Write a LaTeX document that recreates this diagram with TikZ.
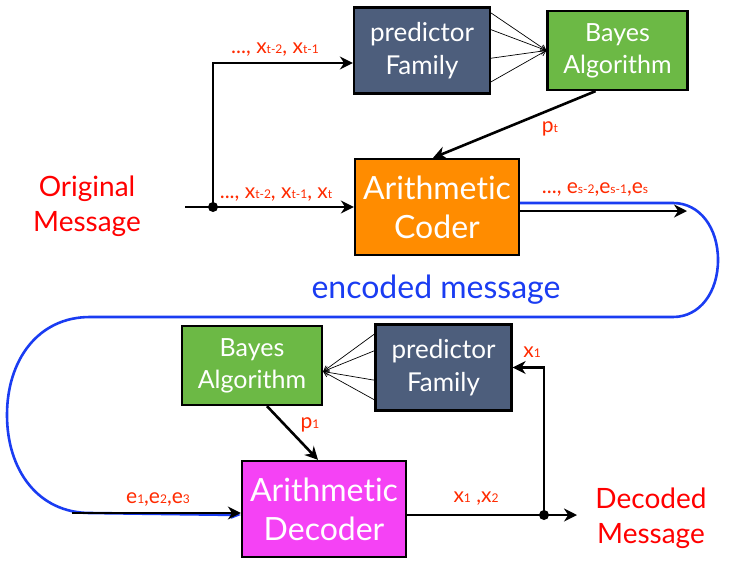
\documentclass[tikz,border=0pt]{standalone}
\usepackage{fontspec}
\setmainfont{Lato}[Ligatures = NoCommon]
\usetikzlibrary{calc, arrows.meta}
\definecolor{slate}{HTML}{4D5E7C}
\definecolor{bayesgreen}{HTML}{6CB945}
\definecolor{coderorange}{HTML}{FF8C00}
\definecolor{decmagenta}{HTML}{F542F5}
\definecolor{labelred}{HTML}{FF2A00}
\definecolor{msgblue}{HTML}{1A3CF2}
\newcommand\sbx[1]{{\fontsize{12}{12}\selectfont #1}}

\begin{document}
\begin{tikzpicture}[x=1pt, y=-1pt]

\tikzset{
block/.style = {rectangle, draw, line width = 2.3pt, text = white, align = center,
	inner sep = 0pt},
predictor/.style = {block, fill = slate, minimum width = 136pt, minimum height = 86pt,
	font = \fontsize{26}{33}\selectfont},
bayes/.style = {block, fill = bayesgreen, minimum width = 140pt, minimum height = 79pt,
	font = \fontsize{25}{32}\selectfont},
coder/.style = {block, minimum width = 164pt, minimum height = 96pt,
	font = \fontsize{32}{39}\selectfont},
conn/.style = {line width = 2.6pt, -{Stealth[length = 13pt, width = 13pt]}},
fan/.style = {line width = 0.7pt, -{Straight Barb[length = 5pt, width = 6pt]}},
encoded/.style = {msgblue, line width = 2.6pt, -{Stealth[length = 10pt, width = 8pt]}},
seq/.style = {labelred, anchor = base, font = \fontsize{21}{24}\selectfont},
title/.style = {red, align = center, font = \fontsize{28}{35}\selectfont},
}

\useasboundingbox (0,0) rectangle (736,565);

%% Encoder
\node at (422, 50.5) [predictor] (predT) {predictor\\Family};
\node at (617.5, 50.5) [bayes] (bayesT) {Bayes\\Algorithm};
\node at (437, 207) [coder, fill = coderorange] (coder) {Arithmetic\\Coder};

%% Decoder
\node at (252, 365.5) [bayes] (bayesB) {Bayes\\Algorithm};
\node at (443.5, 367.5) [predictor] (predB) {predictor\\Family};
\node at (324, 509) [coder, fill = decmagenta] (decoder) {Arithmetic\\Decoder};

%% Messages
\node at (87, 206) [title] (orig) {Original\\Message};
\node at (651, 518) [title] (decoded) {Decoded\\Message};
\node at (436, 298) [msgblue, anchor = base, font = \fontsize{32}{38}\selectfont]
	(encmsg) {encoded message};

% Coordinates
\coordinate (inStart) at (185, 207);
\coordinate (split) at (213, 207);
\coordinate (bend) at (213, 63);
\coordinate (encEnd) at (687, 211);
\coordinate (decStart) at (72, 513);
\coordinate (outEnd) at (577, 515);
\coordinate (split2) at (544, 515);
\coordinate (rTop) at (673, 203);
\coordinate (rMid) at (718, 260);
\coordinate (rBot) at (673, 317);
\coordinate (lTop) at (90, 317);
\coordinate (lMid) at (7, 415);
\coordinate (lBot) at (90, 513);

% Encoded message path
\draw [encoded] ($(coder.east)+(0,-4)$) -- (rTop)
	.. controls +(27,0) and +(0,-32) .. (rMid)
	.. controls +(0,32) and +(27,0) .. (rBot) -- (lTop)
	.. controls +(-52,0) and +(0,-55) .. (lMid)
	.. controls +(0,55) and +(-52,0) .. (lBot) -- ($(decoder.west)+(0,6)$);

% Encoder connectors
\draw [conn] (inStart) -- (coder.west);
\draw [conn] (split) -- (bend) -- (bend -| predT.west);
\fill (split) circle (5pt);
\foreach \d in {6, 23, 52, 76}
	\draw [fan] ($(predT.north east)+(-1,\d)$) -- (bayesT.west);
\draw [conn] ($(bayesT.south)+(-22,0)$) -- ($(coder.north)+(-4,0)$);
\draw [conn] ($(coder.east)+(0,4)$) -- (encEnd);

% Decoder connectors
\draw [conn] (decStart) -- (decStart -| decoder.west);
\foreach \d in {10, 27, 57, 77}
	\draw [fan] ($(predB.north west)+(1,\d)$) -- ($(bayesB.east)+(0,6)$);
\draw [conn] ($(bayesB.south)+(15,0)$) -- ($(decoder.north)+(-6,0)$);
\draw [conn] (outEnd -| decoder.east) -- (outEnd);
\draw [conn] (split2) |- (predB.east);
\fill (split2) circle (5pt);

%% Labels
\node at (275, 53) [seq] (lblPred) {..., x\sbx{t-2}, x\sbx{t-1}};
\node at (276, 198) [seq] (lblIn) {..., x\sbx{t-2}, x\sbx{t-1}, x\sbx{t}};
\node at (595, 193) [seq] (lblOut) {..., e\sbx{s-2},e\sbx{s-1},e\sbx{s}};
\node at (550, 132) [seq] (lblPt) {p\sbx{t}};
\node at (310, 428) [seq] (lblP1) {p\sbx{1}};
\node at (532, 357) [seq] (lblX1) {x\sbx{1}};
\node at (476, 502) [seq] (lblX12) {x\sbx{1} ,x\sbx{2}};
\node at (158, 503) [seq] (lblE) {e\sbx{1},e\sbx{2},e\sbx{3}};

\end{tikzpicture}
\end{document}
